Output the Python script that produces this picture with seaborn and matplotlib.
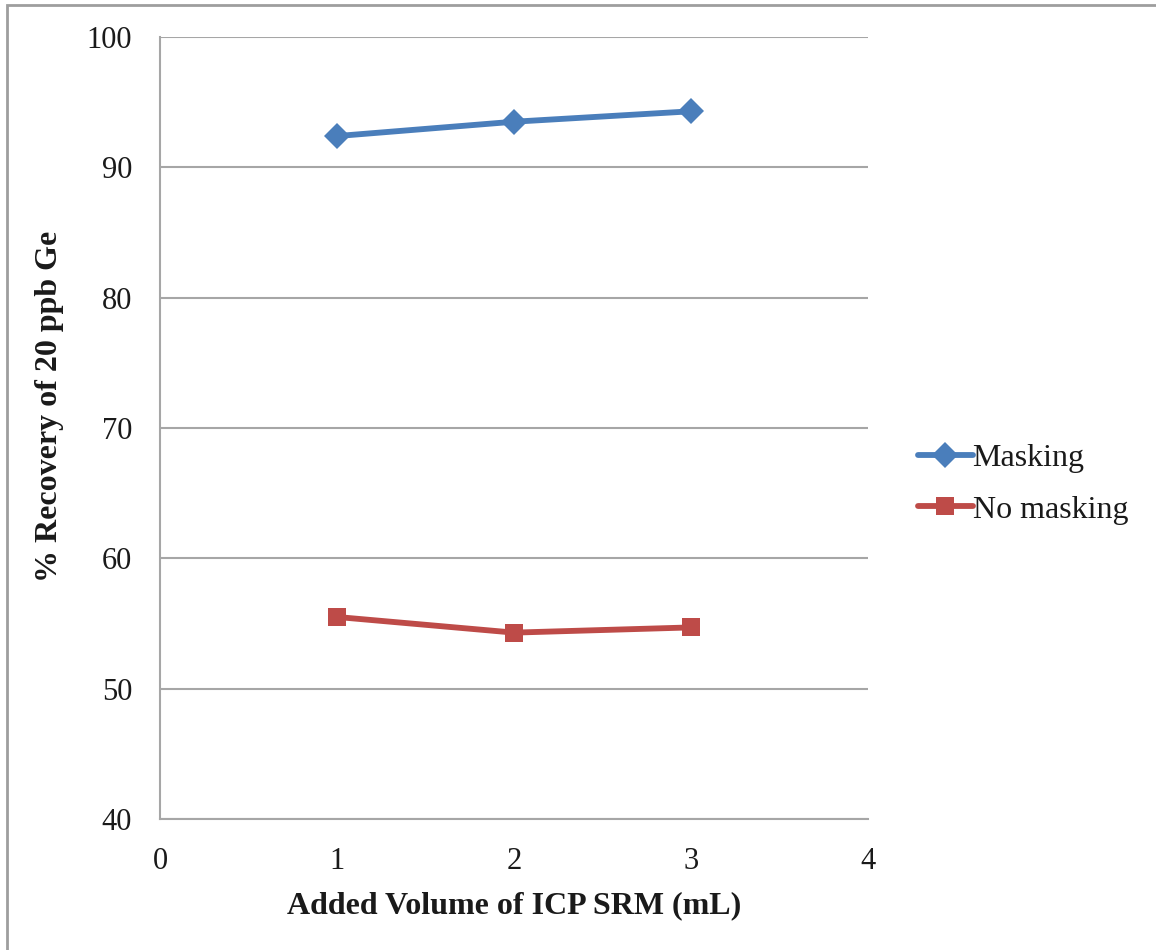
import matplotlib
matplotlib.use("Agg")
import matplotlib.pyplot as plt
import seaborn as sns
import pandas as pd
from matplotlib.patches import Rectangle

# Recovery of 20 ppb Ge versus added ICP SRM volume
volume_ml = [1, 2, 3]
masking = [92.4, 93.5, 94.3]
no_masking = [55.5, 54.3, 54.7]
series_names = ["Masking", "No masking"]
x_ticks = [0, 1, 2, 3, 4]
y_ticks = [40, 50, 60, 70, 80, 90, 100]

df = pd.DataFrame({
    "Volume": volume_ml * 2,
    "Recovery": masking + no_masking,
    "Series": [series_names[0]] * len(volume_ml) + [series_names[1]] * len(volume_ml),
})

sns.set_style("white")
plt.rcParams["font.family"] = ["Liberation Serif", "DejaVu Serif"]

fig = plt.figure(figsize=(11.56, 9.5), dpi=100)
ax = fig.add_axes([160 / 1156, 1 - 819 / 950, (868 - 160) / 1156, (819 - 37) / 950])

palette = {"Masking": "#4A7EBB", "No masking": "#BE4B48"}
markers = {"Masking": "D", "No masking": "s"}
sns.lineplot(data=df, x="Volume", y="Recovery", hue="Series", style="Series",
             palette=palette, markers=markers, dashes=False, linewidth=4.2,
             markersize=13, markeredgewidth=0, ax=ax, legend=True)

ax.set_xlim(0, 4)
ax.set_ylim(40, 100)
ax.set_xticks(x_ticks)
ax.set_yticks(y_ticks)
ax.yaxis.grid(True, color="#A6A6A6", linewidth=1.5)
ax.xaxis.grid(False)
for side in ["top", "right"]:
    ax.spines[side].set_visible(False)
for side in ["left", "bottom"]:
    ax.spines[side].set_color("#A6A6A6")
    ax.spines[side].set_linewidth(1.5)
ax.tick_params(axis="both", length=0, labelsize=22, colors="#1a1a1a")
ax.tick_params(axis="y", pad=20)
ax.tick_params(axis="x", pad=20)

ax.set_xlabel("Added Volume of ICP SRM (mL)", fontsize=23, fontweight="bold",
              labelpad=11, color="#1a1a1a")
ax.set_ylabel("% Recovery of 20 ppb Ge", fontsize=23, fontweight="bold",
              labelpad=16, color="#1a1a1a")
ax.yaxis.label.set_y(0.528)

leg = ax.legend(loc="center left", bbox_to_anchor=(1.053, 0.428), frameon=False,
                fontsize=23, handlelength=1.7, handletextpad=0.0, labelspacing=0.68,
                borderaxespad=0)
for h in leg.legend_handles:
    h.set_linewidth(4.2)
    h.set_markersize(13)
for t in leg.get_texts():
    t.set_color("#1a1a1a")

# Outer chart border
fig.patches.append(Rectangle((7 / 1156, -0.05), 1.1, 1 - 5 / 950 + 0.05,
                             transform=fig.transFigure, fill=False,
                             edgecolor="#9E9E9E", linewidth=2, clip_on=False))

fig.savefig("out.png", dpi=100)
